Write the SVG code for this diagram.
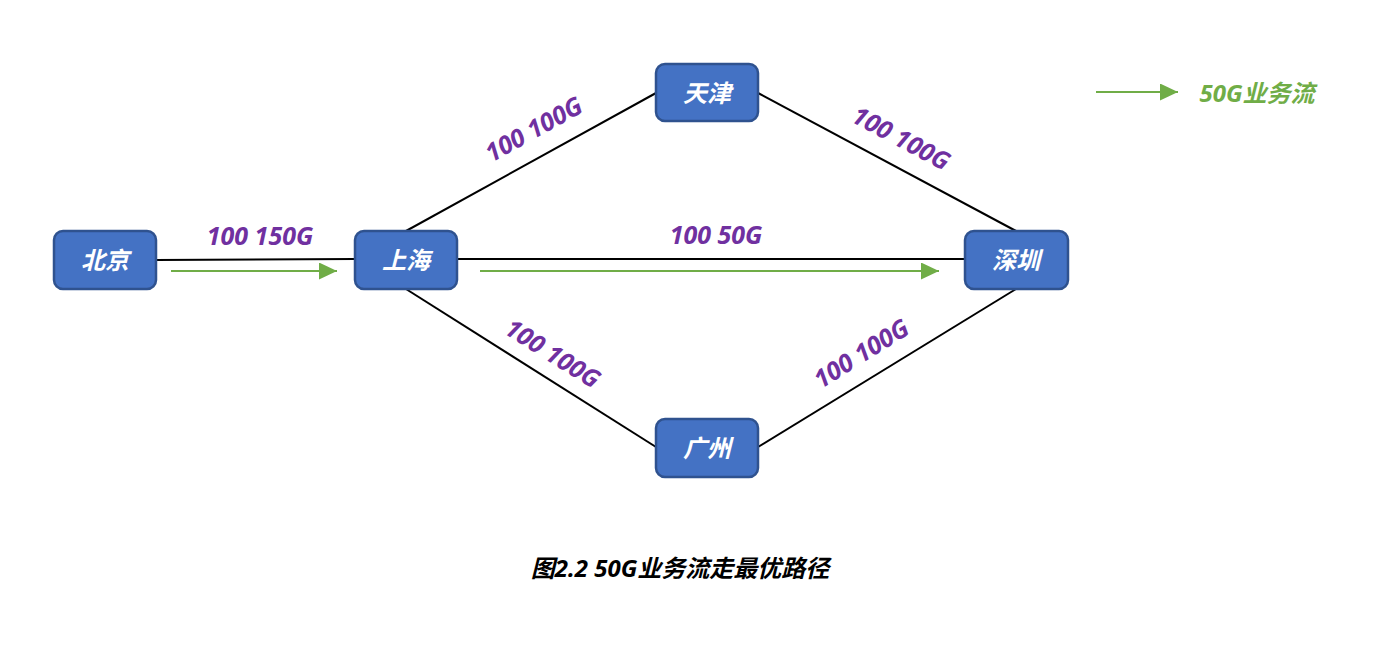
<svg xmlns="http://www.w3.org/2000/svg" width="1387" height="671" viewBox="0 0 1387 671">
<defs>
<style>
.node rect{fill:#4472c4;stroke:#2f528f;stroke-width:2.5}
.node text{fill:#fff;font-family:"Noto Sans","Noto Sans CJK SC",sans-serif;font-size:24px;font-weight:bold;font-style:italic;text-anchor:middle}
.edge{stroke:#000;stroke-width:2;fill:none}
.flow{stroke:#70ad47;stroke-width:2;fill:none}
.lbl{fill:#7030a0;font-family:"Noto Sans","Noto Sans CJK SC",sans-serif;font-size:25px;font-weight:bold;font-style:italic;text-anchor:middle}
</style>
<marker id="ah" markerWidth="18" markerHeight="17" refX="18" refY="8.5" orient="auto" markerUnits="userSpaceOnUse">
<path d="M0,0 L18,8.5 L0,17 Z" fill="#70ad47"/>
</marker>
</defs>
<rect width="1387" height="671" fill="#fff"/>
<g id="connectors">
<line class="edge" x1="156" y1="260" x2="355" y2="259"/>
<line class="edge" x1="457" y1="259" x2="965" y2="259"/>
<line class="edge" x1="406" y1="231" x2="656" y2="93"/>
<line class="edge" x1="758" y1="93" x2="1016" y2="231"/>
<line class="edge" x1="406" y1="289" x2="656" y2="447"/>
<line class="edge" x1="758" y1="447" x2="1016" y2="289"/>
<line class="flow" x1="171" y1="271" x2="337" y2="271" marker-end="url(#ah)"/>
<line class="flow" x1="480" y1="271" x2="939" y2="271" marker-end="url(#ah)"/>
<line class="flow" x1="1096" y1="92" x2="1178" y2="92" marker-end="url(#ah)"/>
<text class="lbl" x="260" y="245">100 150G</text>
<text class="lbl" x="716" y="244">100 50G</text>
<text class="lbl" transform="translate(538,137) rotate(-29)">100 100G</text>
<text class="lbl" transform="translate(897,146) rotate(28)">100 100G</text>
<text class="lbl" transform="translate(548,361) rotate(32)">100 100G</text>
<text class="lbl" transform="translate(866,361) rotate(-32)">100 100G</text>
</g>
<g id="beijing" class="node"><rect x="54" y="231" width="102" height="58" rx="9"/><text x="105" y="269">北京</text></g>
<g id="shanghai" class="node"><rect x="355" y="231" width="102" height="58" rx="9"/><text x="406" y="269">上海</text></g>
<g id="tianjin" class="node"><rect x="656" y="64" width="102" height="57" rx="9"/><text x="707" y="102">天津</text></g>
<g id="shenzhen" class="node"><rect x="965" y="231" width="103" height="58" rx="9"/><text x="1016" y="269">深圳</text></g>
<g id="guangzhou" class="node"><rect x="656" y="419" width="102" height="58" rx="9"/><text x="707" y="457">广州</text></g>
<g id="legend">
<text x="1257" y="102" fill="#70ad47" font-family="'Noto Sans','Noto Sans CJK SC',sans-serif" font-size="24" font-weight="bold" font-style="italic" text-anchor="middle">50G业务流</text>
</g>
<text x="680" y="577" fill="#000" font-family="'Noto Sans','Noto Sans CJK SC',sans-serif" font-size="24" font-weight="bold" font-style="italic" text-anchor="middle">图2.2 50G业务流走最优路径</text>
</svg>
